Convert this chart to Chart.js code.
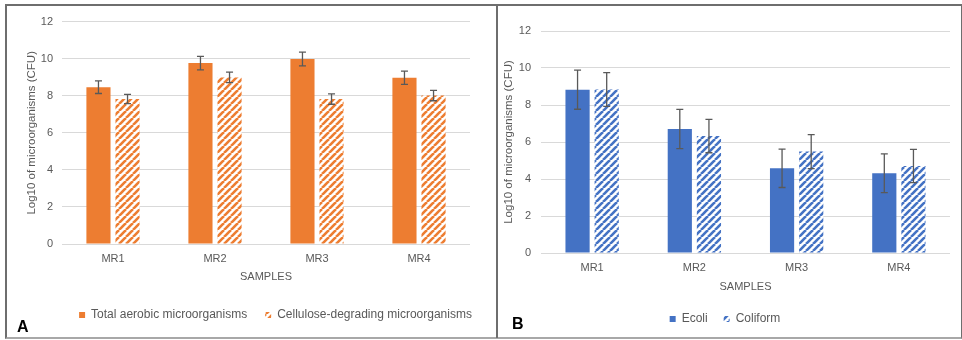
<!DOCTYPE html>
<html><head><meta charset="utf-8">
<script src="https://cdn.jsdelivr.net/npm/chart.js@4.4.1/dist/chart.umd.min.js"></script>
<style>
html,body{margin:0;padding:0;background:#fff;}
#wrap{position:relative;width:962px;height:340px;overflow:hidden;font-family:"Liberation Sans",Arial,sans-serif;}
#frame{position:absolute;left:5px;top:4px;width:957px;height:335px;border-left:2px solid #6e6e6e;border-top:2px solid #6e6e6e;border-right:1px solid #6e6e6e;border-bottom:2px solid #a8a8a8;box-sizing:border-box;}
#divider{position:absolute;left:496px;top:4px;width:1.5px;height:334px;background:#6e6e6e;}
.c{position:absolute;}
#ca{left:7px;top:6px;width:488px;height:330px;}
#cb{left:498px;top:6px;width:462px;height:330px;}
.lab{position:absolute;font-weight:bold;font-size:16px;color:#000;line-height:16px;}
</style></head>
<body>
<div id="wrap">
<div id="frame"></div>
<div id="divider"></div>
<div class="c" id="ca"><canvas id="chartA" width="488" height="330"></canvas></div>
<div class="c" id="cb"><canvas id="chartB" width="462" height="330"></canvas></div>
<div class="lab" style="left:17px;top:319px;">A</div>
<div class="lab" style="left:512px;top:316px;">B</div>
</div>
<script>
// ---- data ----
const categories = ['MR1', 'MR2', 'MR3', 'MR4'];
const aerobic = [8.46, 9.76, 9.98, 8.97];
const aerobicErr = [0.34, 0.36, 0.37, 0.36];
const cellulose = [7.82, 8.99, 7.82, 8.01];
const celluloseErr = [0.25, 0.28, 0.28, 0.28];
const ecoli = [8.83, 6.70, 4.58, 4.31];
const ecoliErr = [1.06, 1.06, 1.04, 1.05];
const coliform = [8.84, 6.32, 5.48, 4.70];
const coliformErr = [0.91, 0.90, 0.92, 0.90];
const yMin = 0, yMax = 12, yStep = 2;
const xTitle = 'SAMPLES';
const yTitle = 'Log10 of microorganisms (CFU)';

const ORANGE = '#ED7D31', BLUE = '#4472C4', TXT = '#595959';

function hatch(color) {
  const s = 7;
  const c = document.createElement('canvas');
  c.width = s; c.height = s;
  const g = c.getContext('2d');
  g.fillStyle = '#fff'; g.fillRect(0, 0, s, s);
  g.strokeStyle = color; g.lineWidth = 2.6;
  for (const k of [-s, 0, s]) {
    g.beginPath(); g.moveTo(k, s); g.lineTo(k + s, 0); g.stroke();
  }
  return g.createPattern(c, 'repeat');
}

const errorBars = {
  id: 'errorBars',
  afterDatasetsDraw(chart) {
    const ctx = chart.ctx, y = chart.scales.y;
    chart.data.datasets.forEach((ds, i) => {
      const meta = chart.getDatasetMeta(i);
      if (meta.hidden) return;
      meta.data.forEach((el, j) => {
        const v = ds.data[j], e = ds.errors[j];
        const yt = y.getPixelForValue(v + e), yb = y.getPixelForValue(v - e);
        ctx.save();
        ctx.strokeStyle = '#595959'; ctx.lineWidth = 1.3;
        ctx.beginPath();
        ctx.moveTo(el.x, yt); ctx.lineTo(el.x, yb);
        ctx.moveTo(el.x - 3.5, yt); ctx.lineTo(el.x + 3.5, yt);
        ctx.moveTo(el.x - 3.5, yb); ctx.lineTo(el.x + 3.5, yb);
        ctx.stroke();
        ctx.restore();
      });
    });
  }
};

const legendShift = {
  id: 'legendShift',
  afterLayout(chart, args, opts) {
    const dx = (opts && opts.dx) || 0, dy = (opts && opts.dy) || 0;
    if (chart.legend) {
      chart.legend.left += dx; chart.legend.right += dx;
      chart.legend.top += dy; chart.legend.bottom += dy;
    }
  }
};

function makeChart(id, dsets, cfg) {
  return new Chart(document.getElementById(id), {
    type: 'bar',
    data: { labels: categories, datasets: dsets },
    plugins: [errorBars, legendShift],
    options: {
      responsive: false,
      animation: false,
      layout: { padding: { top: cfg.top, right: cfg.right, bottom: cfg.bottom, left: 0 } },
      datasets: { bar: { categoryPercentage: 0.57, barPercentage: 0.83, borderWidth: 0 } },
      scales: {
        x: {
          grid: { display: false, drawTicks: false },
          border: { display: false },
          ticks: { color: TXT, font: { family: 'Liberation Sans', size: 11 }, padding: cfg.xTickPad },
          title: { display: true, text: xTitle, color: TXT, font: { family: 'Liberation Sans', size: 11 }, padding: { top: 0, bottom: cfg.xTitlePad } },
          afterFit(s) { s.height = cfg.xH; }
        },
        y: {
          min: yMin, max: yMax,
          grid: { color: '#d9d9d9', lineWidth: 1, drawTicks: false },
          border: { display: false },
          ticks: { stepSize: yStep, color: TXT, font: { family: 'Liberation Sans', size: 11 }, padding: cfg.yTickPad },
          title: { display: true, text: yTitle, color: TXT, font: { family: 'Liberation Sans', size: 11.5 }, padding: { top: cfg.yTitlePad, bottom: 0 } },
          afterFit(s) { s.width = cfg.yW; }
        }
      },
      plugins: {
        legend: {
          position: 'bottom',
          labels: { boxWidth: 6, boxHeight: 6, padding: cfg.legPad, color: TXT, font: { family: 'Liberation Sans', size: 12 } }
        },
        legendShift: { dx: cfg.legDx, dy: cfg.legDy },
        tooltip: { enabled: false }
      }
    }
  });
}

makeChart('chartA', [
  { label: 'Total aerobic microorganisms', data: aerobic, errors: aerobicErr, backgroundColor: ORANGE },
  { label: 'Cellulose-degrading microorganisms', data: cellulose, errors: celluloseErr, backgroundColor: hatch(ORANGE) }
], { top: 14, right: 25, bottom: -3, xH: 55, yW: 55, xTickPad: 8, xTitlePad: 15, yTickPad: 9, yTitlePad: 17.5, legPad: 18, legDx: 37, legDy: -8 });

makeChart('chartB', [
  { label: 'Ecoli', data: ecoli, errors: ecoliErr, backgroundColor: BLUE },
  { label: 'Coliform', data: coliform, errors: coliformErr, backgroundColor: hatch(BLUE) }
], { top: 25, right: 10, bottom: -4, xH: 49, yW: 43, xTickPad: 8, xTitlePad: 8, yTickPad: 10, yTitlePad: 3.5, legPad: 16, legDx: 1, legDy: -5 });
</script>
</body></html>
